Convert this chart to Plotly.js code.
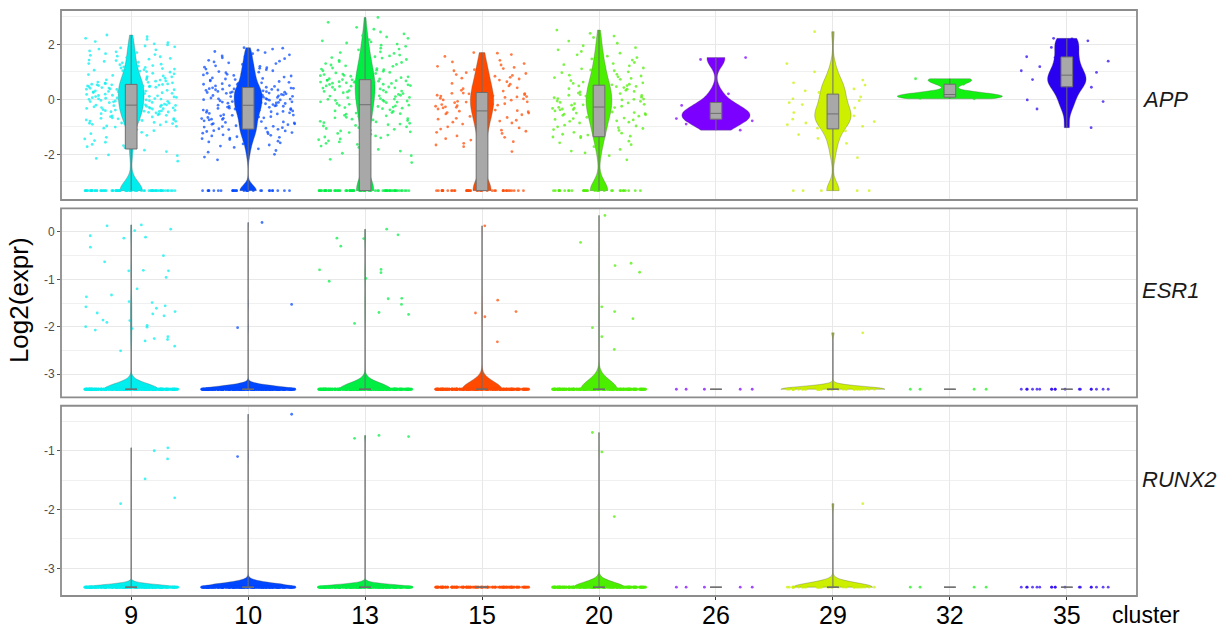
<!DOCTYPE html>
<html><head><meta charset="utf-8">
<script src="https://cdn.plot.ly/plotly-3.0.1.min.js"></script>
<style>html,body{margin:0;padding:0;background:#fff;} #chart{width:1227px;height:632px;}</style>
</head><body><div id="chart"></div>
<script>
// ---------------- data ----------------
const clusters = ['9', '10', '13', '15', '20', '26', '29', '32', '35'];
const genes = ['APP', 'ESR1', 'RUNX2'];
const DROPOUT = -3.32;   // log2 value of cells with no detected expression

// APP: non-dropout values per cluster
const app9 = [-2.25, -2.02, -1.9, -1.72, -2.15, -2.05, -1.85, -1.76,
  -1.64, -1.5, -1.38, -1.25, -1.14, -1.05,
  -0.98, -0.95, -0.91, -0.88, -0.86, -0.82, -0.79, -0.75, -0.73, -0.7,
  -0.67, -0.64, -0.62, -0.58, -0.56, -0.53, -0.5, -0.48, -0.46, -0.44, -0.42, -0.41,
  -0.38, -0.36, -0.35, -0.32, -0.3, -0.28, -0.26, -0.24, -0.22, -0.21, -0.2, -0.19,
  -1.68, -1.56, -1.44, -1.31, -1.2, -1.1, -1.01, -0.97, -0.93, -0.9, -0.87, -0.84, -0.8, -0.77,
  -0.74, -0.71, -0.69, -0.66, -0.63, -0.6, -0.57, -0.55, -0.52, -0.49, -0.47, -0.45, -0.43, -0.4,
  -0.39, -0.37, -0.34, -0.33, -0.31, -0.29, -0.27, -0.25, -0.23, -0.22, -0.21, -0.2,
  -0.15, -0.13, -0.11, -0.08, -0.06, -0.05, -0.02, 0.0, 0.02, 0.05,
  0.06, 0.09, 0.11, 0.13, 0.15, 0.17, 0.19, 0.21, 0.23, 0.25,
  0.27, 0.29, 0.31, 0.33, 0.35, 0.37, 0.38, 0.4, 0.42, 0.44,
  0.46, 0.47, 0.49, 0.5, 0.52, 0.53, 0.54, 0.56, 0.57, 0.59,
  -0.17, -0.14, -0.12, -0.09, -0.07, -0.04, -0.03, -0.01, 0.01, 0.03, 0.04, 0.07, 0.08, 0.1,
  0.12, 0.14, 0.16, 0.18, 0.2, 0.22, 0.24, 0.26, 0.28, 0.3, 0.32, 0.34, 0.36, 0.39, 0.41, 0.43,
  0.45, 0.46, 0.48, 0.49, 0.51, 0.52, 0.53, 0.55, 0.56, 0.58,
  0.61, 0.63, 0.66, 0.69, 0.71, 0.74, 0.77, 0.8, 0.83, 0.87,
  0.9, 0.93, 0.97, 1.01, 1.04, 1.08, 1.12, 1.16, 1.21, 1.26,
  1.3, 1.35, 1.41, 1.46, 1.52, 1.57, 1.63, 1.7, 1.76, 1.83,
  1.91, 1.98, 2.06, 2.13, 2.22, 2.34,
  0.6, 0.62, 0.65, 0.67, 0.7, 0.72, 0.75, 0.78, 0.82, 0.85, 0.88, 0.92, 0.95, 0.99, 1.03, 1.06,
  1.1, 1.14, 1.18, 1.23, 1.28, 1.33, 1.38, 1.43, 1.49, 1.55, 1.6, 1.66, 1.73, 1.8, 1.87, 1.94,
  2.02, 2.1, 2.18, 2.28];
const app10 = [-2.2, -2.0, -1.86, -1.75, -1.66, -1.58, -1.52, -1.46, -1.41, -1.36, -1.31, -1.27, -1.23, -1.19, -1.15, -1.12, -1.1,
  -2.1, -1.92, -1.8, -1.7, -1.62, -1.55, -1.49, -1.43, -1.38, -1.33, -1.29, -1.25, -1.21, -1.17, -1.14, -1.11, -1.09,
  -1.07, -1.03, -0.99, -0.96, -0.92, -0.89, -0.86, -0.82, -0.79, -0.76, -0.73, -0.7, -0.67, -0.64, -0.61, -0.58,
  -0.56, -0.53, -0.5, -0.47, -0.45, -0.42, -0.4, -0.37, -0.35, -0.33, -0.3, -0.28, -0.26, -0.24, -0.23,
  -1.05, -1.01, -0.98, -0.94, -0.91, -0.88, -0.84, -0.81, -0.78, -0.75, -0.72, -0.69, -0.66, -0.63, -0.6,
  -0.57, -0.54, -0.51, -0.49, -0.46, -0.44, -0.41, -0.39, -0.36, -0.34, -0.32, -0.29, -0.27, -0.25, -0.24, -0.22,
  -0.21, -0.19, -0.16, -0.14, -0.12, -0.1, -0.08, -0.05, -0.03, -0.01, 0.01, 0.03, 0.05, 0.08, 0.1, 0.12,
  0.14, 0.16, 0.18, 0.2, 0.22, 0.24, 0.26, 0.28, 0.3, 0.32, 0.34, 0.36, 0.38, 0.4, 0.41,
  -0.2, -0.17, -0.15, -0.13, -0.11, -0.09, -0.06, -0.04, -0.02, 0.0, 0.02, 0.04, 0.07, 0.09, 0.11, 0.13,
  0.15, 0.17, 0.19, 0.21, 0.23, 0.25, 0.27, 0.29, 0.31, 0.33, 0.35, 0.37, 0.39, 0.4, 0.42,
  0.44, 0.47, 0.5, 0.54, 0.57, 0.6, 0.64, 0.67, 0.7, 0.74, 0.78, 0.81, 0.85, 0.89, 0.93, 0.97,
  1.01, 1.06, 1.1, 1.15, 1.2, 1.25, 1.3, 1.36, 1.42, 1.48, 1.55, 1.62, 1.7, 1.79, 1.88,
  0.45, 0.49, 0.52, 0.55, 0.59, 0.62, 0.65, 0.69, 0.72, 0.76, 0.8, 0.83, 0.87, 0.91, 0.95, 0.99,
  1.04, 1.08, 1.13, 1.17, 1.22, 1.27, 1.33, 1.39, 1.45, 1.51, 1.58, 1.66, 1.74, 1.83, 1.86];
const app13 = [-2.3, -2.05, -1.88, -1.75, -1.64, -1.55, -1.47, -1.4, -1.33, -1.27, -1.21, -1.15, -1.09, -1.03,
  -0.97, -0.92, -0.87, -0.82, -0.77, -0.72, -0.67, -0.62, -0.58, -0.54, -0.5, -0.46, -0.42, -0.38, -0.34, -0.3, -0.26, -0.22,
  -2.18, -1.96, -1.82, -1.7, -1.6, -1.51, -1.44, -1.37, -1.3, -1.24, -1.18, -1.12, -1.06, -1.0, -0.95, -0.9,
  -0.85, -0.8, -0.75, -0.7, -0.65, -0.6, -0.56, -0.52, -0.48, -0.44, -0.4, -0.36, -0.32, -0.28, -0.24, -0.21,
  -0.18, -0.15, -0.12, -0.09, -0.06, -0.03, 0.0, 0.03, 0.06, 0.09, 0.12, 0.15, 0.18, 0.21, 0.24, 0.27, 0.3,
  0.33, 0.36, 0.39, 0.42, 0.45, 0.48, 0.5, 0.53, 0.55, 0.58, 0.6, 0.62, 0.64, 0.66, 0.68, 0.69, 0.71,
  -0.17, -0.14, -0.1, -0.07, -0.04, -0.01, 0.01, 0.04, 0.07, 0.1, 0.13, 0.16, 0.2, 0.23, 0.26, 0.29, 0.32,
  0.35, 0.38, 0.41, 0.44, 0.47, 0.49, 0.51, 0.54, 0.56, 0.59, 0.61, 0.63, 0.65, 0.67, 0.68, 0.7, 0.7,
  0.74, 0.77, 0.8, 0.84, 0.87, 0.9, 0.94, 0.98, 1.02, 1.06, 1.1, 1.14, 1.18, 1.22, 1.27, 1.32, 1.37,
  1.42, 1.47, 1.52, 1.58, 1.64, 1.7, 1.76, 1.83, 1.9, 1.97, 2.05, 2.13, 2.22, 2.32, 2.45, 2.62, 2.98,
  0.72, 0.75, 0.79, 0.82, 0.86, 0.89, 0.92, 0.96, 1.0, 1.04, 1.08, 1.12, 1.16, 1.2, 1.25, 1.3, 1.34,
  1.39, 1.45, 1.5, 1.55, 1.61, 1.67, 1.73, 1.8, 1.86, 1.93, 2.01, 2.09, 2.17, 2.27, 2.38, 2.55, 2.8];
const app15 = [-1.9, -1.72, -1.6, -1.48, -1.38, -1.29, -1.2, -1.12, -1.04, -0.97, -0.9, -0.83, -0.76, -0.69, -0.62, -0.56, -0.5, -0.45,
  -1.8, -1.66, -1.54, -1.43, -1.33, -1.24, -1.16, -1.08, -1.0, -0.93, -0.86, -0.79, -0.72, -0.66, -0.59, -0.53, -0.48, -0.43,
  -0.39, -0.35, -0.31, -0.27, -0.23, -0.19, -0.16, -0.12, -0.09, -0.05, -0.02, 0.02, 0.05, 0.09, 0.12, 0.15, 0.18, 0.21, 0.23,
  -0.41, -0.37, -0.33, -0.29, -0.25, -0.21, -0.18, -0.14, -0.1, -0.07, -0.03, 0.0, 0.04, 0.07, 0.1, 0.13, 0.17, 0.2, 0.22,
  0.27, 0.33, 0.39, 0.45, 0.52, 0.58, 0.64, 0.7, 0.77, 0.84, 0.9, 0.97, 1.04, 1.12, 1.2, 1.3, 1.42, 1.56, 1.7,
  0.3, 0.36, 0.42, 0.49, 0.55, 0.61, 0.67, 0.74, 0.8, 0.87, 0.94, 1.0, 1.08, 1.16, 1.25, 1.36, 1.49, 1.63, 1.68];
const app20 = [-2.2, -1.95, -1.82, -1.65, -1.52, -1.4, -2.05, -1.88, -1.72, -1.58, -1.46, -1.37,
  -1.34, -1.27, -1.2, -1.13, -1.06, -1.0, -0.94, -0.88, -0.83, -0.78, -0.73, -0.68, -0.63, -0.58, -0.54, -0.5,
  -0.46, -0.42, -0.38, -0.35, -0.32, -0.29,
  -1.35, -1.3, -1.23, -1.16, -1.1, -1.03, -0.97, -0.91, -0.86, -0.8, -0.75, -0.7, -0.65, -0.61, -0.56, -0.52,
  -0.48, -0.44, -0.4, -0.37, -0.33, -0.3,
  -0.27, -0.23, -0.2, -0.16, -0.13, -0.09, -0.06, -0.02, 0.01, 0.05, 0.08, 0.12, 0.15, 0.19, 0.23, 0.27,
  0.31, 0.35, 0.39, 0.43, 0.46, 0.49,
  -0.25, -0.21, -0.18, -0.14, -0.11, -0.07, -0.04, 0.0, 0.03, 0.06, 0.1, 0.14, 0.17, 0.21, 0.25, 0.29,
  0.33, 0.37, 0.41, 0.44, 0.47, 0.5,
  0.53, 0.58, 0.63, 0.68, 0.73, 0.79, 0.85, 0.91, 0.97, 1.04, 1.11, 1.18, 1.26, 1.34, 1.43, 1.52, 1.62,
  1.74, 1.88, 2.04, 2.25, 2.52,
  0.55, 0.6, 0.65, 0.7, 0.76, 0.82, 0.88, 0.94, 1.0, 1.07, 1.14, 1.22, 1.3, 1.38, 1.47, 1.57, 1.68,
  1.8, 1.95, 2.12, 2.3, 2.4];
const app26 = [-1.12, -0.9, -0.78, -0.7, -0.62, -0.55, -0.51, -0.45, -0.3, -0.22, 0.2, 1.45, 1.52];
const app29 = [-2.12, -1.78, -1.6, -1.42, -1.28, -1.15, -1.05, -0.98, -0.92, -0.86, -0.81, -0.76, -0.72, -0.68,
  -0.64, -0.6, -0.57, -0.53, -0.48, -0.42, -0.37, -0.31, -0.25, -0.19, -0.12, -0.05, 0.02, 0.09, 0.17,
  0.25, 0.31, 0.38, 0.45, 0.52, 0.6, 0.7, 0.82, 1.0, 1.3, 2.46];
const app32 = [0.02, 0.04, 0.08, 0.11, 0.15, 0.2, 0.26, 0.55, 0.7, 0.75];
const app35 = [-1.03, -0.35, -0.08, -0.02, 0.3, 0.44, 0.5, 0.58, 0.65, 0.72, 0.8, 0.88, 0.98, 1.04, 1.19,
  1.39, 1.52, 1.55, 1.89, 1.89, 2.13, 2.2, 2.22];
const appDropouts = [72, 28, 72, 40, 32, 0, 5, 0, 0];

// ESR1: non-dropout values per cluster
const esr1_9 = [-2.25, -0.13, -0.11, -0.08, 0.15, 0.06, 0.03, -0.32, 0.13, -0.82, -0.63, -0.5, -0.82, -0.96, -0.81,
  -1.47, -1.2, -1.33, -1.37, -1.58, -1.71, -1.56, -1.61, -1.77, -1.87, -2.0, -1.68, -2.21, -1.49, -2.01,
  -2.07, -1.91, -1.97, -2.04, -2.27, -2.3, -1.73, -1.86, -2.41, -2.51];
const esr1_10 = [0.2, -1.53, -2.02];
const esr1_13 = [-0.13, -0.06, 0.06, -0.3, -0.14, -0.86, -0.79, -0.98, -1.04, -0.8, -1.4, -1.41, -1.53, -1.74, -1.93, -1.7];
const esr1_15 = [0.13, -1.44, -1.68, -1.71, -1.79, -2.32];
const esr1_20 = [0.35, -0.22, -0.66, -0.71, -0.85, -1.68, -1.58, -1.83, -2.21, -2.48, -2.02];
const esr1_26 = [];
const esr1_29 = [-2.13];
const esr1_32 = [];
const esr1_35 = [];
const esr1Dropouts = [300, 300, 300, 250, 250, 5, 40, 4, 18];

// RUNX2: non-dropout values per cluster
const runx2_9 = [-1.0, -1.48, -1.9, -0.95, -1.14, -1.8];
const runx2_10 = [-0.38, -1.1];
const runx2_13 = [-0.74, -0.76, -0.79];
const runx2_15 = [];
const runx2_20 = [-0.69, -1.02, -2.12];
const runx2_26 = [];
const runx2_29 = [-1.9];
const runx2_32 = [];
const runx2_35 = [];
const runx2Dropouts = [300, 300, 300, 150, 250, 5, 40, 4, 18];

// tick labels
const appTickVals = [-2, 0, 2];      const appTickText = ['-2', '0', '2'];
const esr1TickVals = [-3, -2, -1, 0]; const esr1TickText = ['-3', '-2', '-1', '0'];
const runx2TickVals = [-3, -2, -1];  const runx2TickText = ['-3', '-2', '-1'];
const appMinor = [-3, -1, 1, 3];
const esr1Minor = [-2.5, -1.5, -0.5, 0.5];
const runx2Minor = [-2.5, -1.5, -0.5];

// ---------------- styles ----------------
const clusterColors = ['#00EEEE', '#0047FF', '#00EE44', '#FF4A00', '#4CEE00', '#7B00FF', '#CCF000', '#12F012', '#2A00F0'];
const appViolinWidth = [0.22, 0.24, 0.17, 0.2, 0.22, 0.58, 0.31, 0.9, 0.33];
const appBandwidth = [0.33, 0.2, 0.5, 0.45, 0.35, 0.3, 0.3, 0.1, 0.3];
const esr1ViolinWidth = [0.46, 0.79, 0.44, 0.34, 0.31, 0, 0.89, 0, 0];
const esr1Bandwidth = [0.12, 0.07, 0.13, 0.16, 0.19, 0, 0.06, 0, 0];
const runx2ViolinWidth = [0.75, 0.8, 0.82, 0, 0.43, 0, 0.68, 0, 0];
const runx2Bandwidth = [0.045, 0.065, 0.045, 0, 0.085, 0, 0.075, 0, 0];
const FONT = 'Liberation Sans, Arial, sans-serif';

const panels = [
  {axis: 'y', values: [app9, app10, app13, app15, app20, app26, app29, app32, app35], drop: appDropouts, vw: appViolinWidth, bw: appBandwidth},
  {axis: 'y2', values: [esr1_9, esr1_10, esr1_13, esr1_15, esr1_20, esr1_26, esr1_29, esr1_32, esr1_35], drop: esr1Dropouts, vw: esr1ViolinWidth, bw: esr1Bandwidth},
  {axis: 'y3', values: [runx2_9, runx2_10, runx2_13, runx2_15, runx2_20, runx2_26, runx2_29, runx2_32, runx2_35], drop: runx2Dropouts, vw: runx2ViolinWidth, bw: runx2Bandwidth}
];

const violinTraces = [], pointTraces = [], boxTraces = [];
panels.forEach(p => {
  clusters.forEach((c, i) => {
    const vals = new Array(p.drop[i]).fill(DROPOUT).concat(p.values[i]);
    if (!vals.length) return;
    const xs = vals.map(() => c);
    const col = clusterColors[i];
    // jittered cells (invisible box; a wide stat spread keeps the library's jitter uniform)
    pointTraces.push({
      type: 'box', orientation: 'v', x: [c], y: [vals], q1: [-500], median: [0], q3: [500],
      boxpoints: 'all', jitter: 1, pointpos: 0, width: 0.8,
      fillcolor: 'rgba(0,0,0,0)', line: {color: 'rgba(0,0,0,0)', width: 0}, whiskerwidth: 0,
      marker: {color: col, size: 2.8, opacity: 0.72},
      hoverinfo: 'skip', showlegend: false, xaxis: 'x', yaxis: p.axis
    });
    if (new Set(vals).size > 1 && p.vw[i] > 0) {
      violinTraces.push({
        type: 'violin', x: xs, y: vals, width: p.vw[i], bandwidth: p.bw[i],
        scalemode: 'width', spanmode: 'hard', points: false,
        box: {visible: false}, meanline: {visible: false},
        fillcolor: col, line: {color: 'rgba(90,90,90,0.55)', width: 0.6},
        hoverinfo: 'skip', showlegend: false, xaxis: 'x', yaxis: p.axis
      });
    }
    boxTraces.push({
      type: 'box', x: xs, y: vals, width: 0.1, boxpoints: false, whiskerwidth: 0,
      fillcolor: '#A8A8A8', line: {color: '#6E6E6E', width: 1},
      hoverinfo: 'skip', showlegend: false, xaxis: 'x', yaxis: p.axis
    });
  });
});

const gridCol = '#E8E8E8', minorCol = '#F0F0F0';
function yAxis(domain, range, tv, tt, minor) {
  return {
    domain: domain, range: range, anchor: 'x', zeroline: false, showline: false,
    tickmode: 'array', tickvals: tv, ticktext: tt,
    ticks: 'outside', ticklen: 3, tickcolor: '#555', tickwidth: 1,
    tickfont: {family: FONT, size: 12, color: '#4D4D4D'},
    showgrid: true, gridcolor: gridCol, gridwidth: 1,
    minor: {tickmode: 'array', tickvals: minor, showgrid: true, gridcolor: minorCol, gridwidth: 1, ticks: ''},
    fixedrange: true
  };
}

const layout = {
  width: 1227, height: 632,
  margin: {l: 61, r: 90, t: 10, b: 36},
  paper_bgcolor: '#fff', plot_bgcolor: '#fff',
  showlegend: false, boxmode: 'overlay', violinmode: 'overlay',
  font: {family: FONT, color: '#000'},
  xaxis: {
    type: 'category', categoryorder: 'array', categoryarray: clusters,
    range: [-0.6, 8.6], anchor: 'y3', zeroline: false, showline: false,
    showgrid: true, gridcolor: gridCol, gridwidth: 1,
    ticks: 'outside', ticklen: 3, tickcolor: '#333', tickwidth: 1,
    ticklabelstandoff: -6,
    tickfont: {family: FONT, size: 25, color: '#000'}, fixedrange: true
  },
  yaxis: yAxis([0.6758, 1], [-3.66, 3.25], appTickVals, appTickText, appMinor),
  yaxis2: yAxis([0.3391, 0.6616], [-3.49, 0.5], esr1TickVals, esr1TickText, esr1Minor),
  yaxis3: yAxis([0, 0.3247], [-3.47, -0.235], runx2TickVals, runx2TickText, runx2Minor),
  shapes: ['y', 'y2', 'y3'].map(a => ({
    type: 'rect', xref: 'paper', yref: a + ' domain', x0: 0, x1: 1, y0: 0, y1: 1,
    line: {color: '#8C8C8C', width: 1.8}, fillcolor: 'rgba(0,0,0,0)', layer: 'above'
  })),
  annotations: [
    {text: '<i>' + genes[0] + '</i>', xref: 'paper', yref: 'paper', x: 1.0028, y: 0.848, xanchor: 'left', yanchor: 'middle', showarrow: false, font: {family: FONT, size: 22, color: '#1A1A1A'}},
    {text: '<i>' + genes[1] + '</i>', xref: 'paper', yref: 'paper', x: 1.0028, y: 0.522, xanchor: 'left', yanchor: 'middle', showarrow: false, font: {family: FONT, size: 22, color: '#1A1A1A'}},
    {text: '<i>' + genes[2] + '</i>', xref: 'paper', yref: 'paper', x: 1.0028, y: 0.198, xanchor: 'left', yanchor: 'middle', showarrow: false, font: {family: FONT, size: 22, color: '#1A1A1A'}},
    {text: 'Log2(expr)', xref: 'paper', yref: 'paper', x: -0.039, y: 0.505, xanchor: 'center', yanchor: 'middle', textangle: -90, showarrow: false, font: {family: FONT, size: 26, color: '#000'}},
    {text: 'cluster', xref: 'paper', yref: 'paper', x: 1.0084, y: -0.0324, xanchor: 'center', yanchor: 'middle', showarrow: false, borderpad: 0, font: {family: FONT, size: 23, color: '#000'}}
  ]
};

Plotly.newPlot('chart', violinTraces.concat(pointTraces, boxTraces), layout, {staticPlot: true, displayModeBar: false});
</script></body></html>
